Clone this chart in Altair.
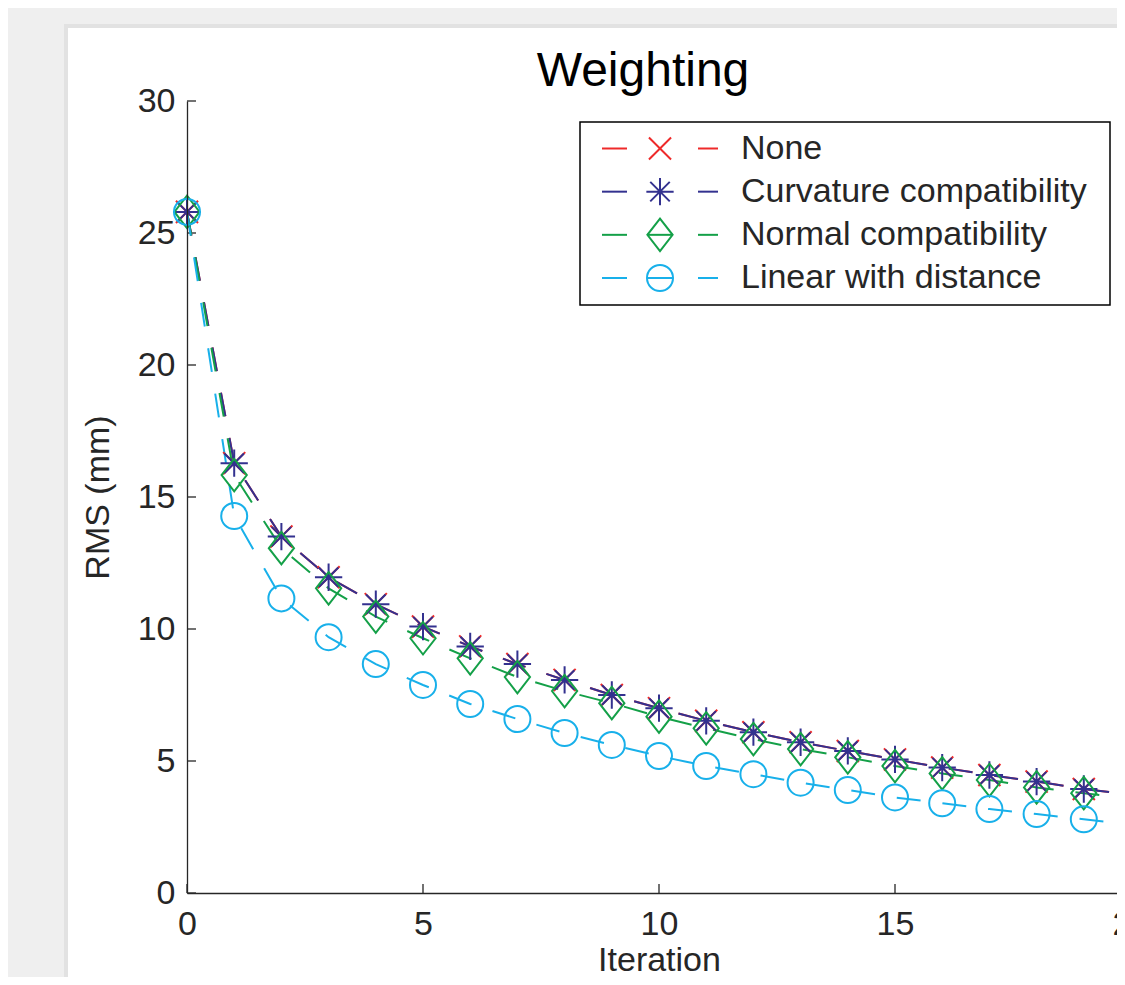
import altair as alt
import pandas as pd

FONT = "Liberation Sans"

iterations = list(range(21))
series_names = ["None", "Curvature compatibility", "Normal compatibility", "Linear with distance"]
rms_none = [25.8, 16.28, 13.50, 11.96, 10.94, 10.09, 9.34, 8.67, 8.07, 7.50, 7.00,
            6.52, 6.09, 5.71, 5.38, 5.06, 4.75, 4.47, 4.22, 3.94, 3.72]
rms_curv = [25.8, 16.28, 13.50, 11.96, 10.94, 10.09, 9.34, 8.67, 8.07, 7.50, 7.00,
            6.52, 6.09, 5.71, 5.38, 5.06, 4.75, 4.47, 4.22, 3.94, 3.72]
rms_normal = [25.8, 15.83, 13.06, 11.54, 10.47, 9.65, 8.89, 8.18, 7.65, 7.19, 6.68,
              6.24, 5.83, 5.45, 5.14, 4.81, 4.53, 4.28, 4.00, 3.78, 3.58]
rms_linear = [25.8, 14.28, 11.16, 9.69, 8.67, 7.88, 7.16, 6.59, 6.06, 5.61, 5.19,
              4.81, 4.50, 4.18, 3.90, 3.62, 3.40, 3.18, 2.99, 2.79, 2.60]
series_colors = ["#ee2a2a", "#33318f", "#14a048", "#18b0ea"]
x_ticks = [0, 5, 10, 15, 20]
y_ticks = [0, 5, 10, 15, 20, 25, 30]

shape_cross = "M-0.85,-0.85L0.85,0.85M-0.85,0.85L0.85,-0.85"
shape_aster = "M-1.05,0L1.05,0M0,-1.05L0,1.05M-0.75,-0.75L0.75,0.75M-0.75,0.75L0.75,-0.75"
shape_diamond = "M0,-1.25L0.97,0L0,1.25L-0.97,0Z"
shape_circle = "M1,0A1,1,0,1,1,-1,0A1,1,0,1,1,1,0Z"
series_shapes = [shape_cross, shape_aster, shape_diamond, shape_circle]

rows = []
for name, vals in zip(series_names, [rms_none, rms_curv, rms_normal, rms_linear]):
    for it, v in zip(iterations, vals):
        rows.append({"series": name, "iteration": it, "rms": v})
df = pd.DataFrame(rows)

legend_df = pd.DataFrame({"series": series_names, "row": list(range(len(series_names)))})
xt_df = pd.DataFrame({"iteration": x_ticks})
yt_df = pd.DataFrame({"rms": y_ticks})
one = pd.DataFrame({"k": [0]})

W, H = 930, 792
AX = "#262626"
FS = 34

xscale = alt.Scale(domain=[0, 20], range=[0, 944], nice=False, zero=False)
yscale = alt.Scale(domain=[0, 30], nice=False, zero=False)
color = alt.Color("series:N", scale=alt.Scale(domain=series_names, range=series_colors), legend=None)
shape = alt.Shape("series:N", scale=alt.Scale(domain=series_names, range=series_shapes), legend=None)

axis_common = dict(grid=False, ticks=False, tickSize=0, domainColor=AX, domainWidth=1.3,
                   labelColor=AX, labelFont=FONT, labelFontSize=FS, titleFont=FONT,
                   titleFontSize=FS, titleFontWeight="normal", titleColor=AX, zindex=1)
X = alt.X("iteration:Q", scale=xscale,
          axis=alt.Axis(values=x_ticks, format="d", title="Iteration", labelPadding=14,
                        titlePadding=2, labelFlush=False, **axis_common))
Y = alt.Y("rms:Q", scale=yscale,
          axis=alt.Axis(values=y_ticks, format="d", title="RMS (mm)", labelPadding=12,
                        titlePadding=22, labelFlush=False, **axis_common))

# page / figure background
shadow = alt.Chart(one).mark_rect(fill="#e2e2e2").encode(
    x=alt.value(-123), x2=alt.value(W + 30), y=alt.value(-77), y2=alt.value(H + 120))
panel = alt.Chart(one).mark_rect(fill="white").encode(
    x=alt.value(-119), x2=alt.value(W + 30), y=alt.value(-73), y2=alt.value(H + 120))

ytick = alt.Chart(yt_df).mark_rule(color=AX, strokeWidth=1.3).encode(
    y=Y, x=alt.value(0), x2=alt.value(9))
xtick = alt.Chart(xt_df).mark_rule(color=AX, strokeWidth=1.3).encode(
    x=X, y=alt.value(H), y2=alt.value(H - 9))
lines = alt.Chart(df).mark_line(strokeWidth=2, strokeDash=[24, 22]).encode(
    x=X, y=Y, color=color, detail="series:N")
points = alt.Chart(df).mark_point(filled=False, size=676, strokeWidth=2, opacity=1).encode(
    x=X, y=Y, color=color, shape=shape)

data_layer = alt.layer(ytick, xtick, lines, points)

LY = alt.Y("row:Q", scale=alt.Scale(domain=[0, 3], range=[47.5, 177]), axis=None)
box = alt.Chart(one).mark_rect(fill="white", stroke="black", strokeWidth=1.5).encode(
    x=alt.value(393), x2=alt.value(923), y=alt.value(21), y2=alt.value(204))
dash_l = alt.Chart(legend_df).mark_rule(strokeWidth=2).encode(
    x=alt.value(415), x2=alt.value(440), y=LY, color=color)
dash_m = alt.Chart(legend_df).transform_filter("datum.row >= 2").mark_rule(strokeWidth=2).encode(
    x=alt.value(460), x2=alt.value(486), y=LY, color=color)
dash_r = alt.Chart(legend_df).mark_rule(strokeWidth=2).encode(
    x=alt.value(511), x2=alt.value(531), y=LY, color=color)
marks = alt.Chart(legend_df).mark_point(filled=False, size=676, strokeWidth=2, opacity=1).encode(
    x=alt.value(473), y=LY, color=color, shape=shape)
labels = alt.Chart(legend_df).mark_text(align="left", baseline="middle", font=FONT,
                                         fontSize=FS, color=AX).encode(
    x=alt.value(554), y=LY, text="series:N")
legend_layer = alt.layer(box, dash_l, dash_m, dash_r, marks, labels)

chart = alt.layer(shadow, panel, data_layer, legend_layer).resolve_scale(
    y="independent"
).properties(
    width=W, height=H,
    title=alt.TitleParams("Weighting", font=FONT, fontSize=48, fontWeight="normal",
                          color="black", anchor="middle", dx=-9, offset=-72),
    autosize=alt.AutoSizeParams(type="none"),
    padding={"left": 179, "top": 93, "right": 0, "bottom": 84},
    background="#efefef",
).configure_view(stroke=None)

chart.save("out.html", embed_options={"renderer": "svg", "actions": False})
